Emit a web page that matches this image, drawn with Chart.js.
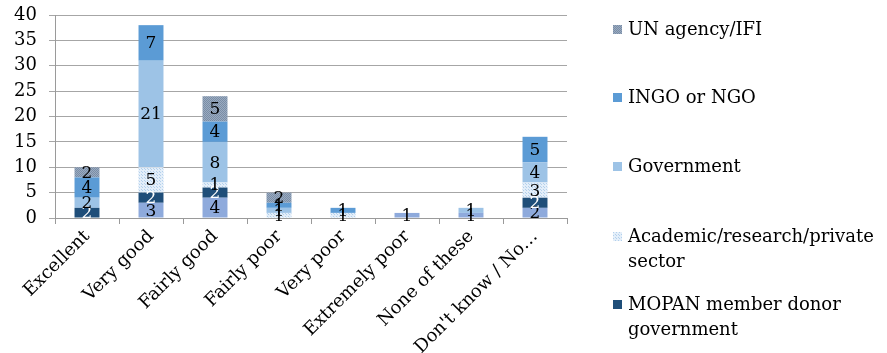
<!DOCTYPE html>
<html>
<head>
<meta charset="utf-8">
<script src="https://cdn.jsdelivr.net/npm/chart.js@4/dist/chart.umd.min.js"></script>
<style>
html,body{margin:0;padding:0;background:#fff;}
#wrap{position:relative;width:887px;height:353px;}
</style>
</head>
<body>
<div id="wrap"><canvas id="c" width="887" height="353"></canvas></div>
<script>
const categories = ["Excellent","Very good","Fairly good","Fairly poor","Very poor","Extremely poor","None of these","Don't know / No\u2026"];
const otherValues    = [0, 3, 4, 0, 0, 1, 1, 2];
const mopanValues    = [2, 2, 2, 0, 0, 0, 0, 2];
const academicValues = [0, 5, 1, 1, 1, 0, 0, 3];
const governmentValues = [2, 21, 8, 1, 0, 0, 1, 4];
const ingoValues     = [4, 7, 4, 1, 1, 0, 0, 5];
const unValues       = [2, 0, 5, 2, 0, 0, 0, 0];
const yTicks = [0,5,10,15,20,25,30,35,40];

const SERIF = "'DejaVu Serif', serif";

function dotPattern(base, dot, step) {
  const p = document.createElement('canvas');
  p.width = step; p.height = step;
  const g = p.getContext('2d');
  g.fillStyle = base; g.fillRect(0,0,step,step);
  g.fillStyle = dot; g.fillRect(0,0,1,1);
  g.fillRect(Math.floor(step/2),Math.floor(step/2),1,1);
  return document.getElementById('c').getContext('2d').createPattern(p,'repeat');
}
const unFill = dotPattern('#9aabc0', '#7a8da6', 2);
const acadFill = dotPattern('#e3eef9', '#b3d0ec', 3);

const datasets = [
  {label:"Other", data: otherValues, backgroundColor:'#8eaadc', legendColor:'#8eaadc', txt:'#000'},
  {label:"MOPAN member donor government", lines:["MOPAN member donor","government"], data: mopanValues, backgroundColor:'#1f4e79', legendColor:'#1f4e79', txt:'#fff'},
  {label:"Academic/research/private sector", lines:["Academic/research/private","sector"], data: academicValues, backgroundColor: acadFill, legendColor: acadFill, txt:'#000'},
  {label:"Government", lines:["Government"], data: governmentValues, backgroundColor:'#9dc3e6', legendColor:'#9dc3e6', txt:'#000'},
  {label:"INGO or NGO", lines:["INGO or NGO"], data: ingoValues, backgroundColor:'#5b9bd5', legendColor:'#5b9bd5', txt:'#000'},
  {label:"UN agency/IFI", lines:["UN agency/IFI"], data: unValues, backgroundColor: unFill, legendColor: unFill, txt:'#000'}
];

const labelPlugin = {
  id:'segLabels',
  afterDatasetsDraw(chart){
    const ctx = chart.ctx;
    ctx.save();
    ctx.font = "17px " + SERIF;
    ctx.textAlign = 'center';
    ctx.textBaseline = 'middle';
    chart.data.datasets.forEach((ds,i)=>{
      const meta = chart.getDatasetMeta(i);
      meta.data.forEach((bar,j)=>{
        const v = ds.data[j];
        if(!v) return;
        const cy = (bar.y + bar.base)/2;
        ctx.fillStyle = ds.txt;
        ctx.fillText(String(v), bar.x, cy+1);
      });
    });
    ctx.restore();
  }
};

const legendPlugin = {
  id:'sideLegend',
  afterDraw(chart){
    const ctx = chart.ctx;
    ctx.save();
    ctx.font = "18px " + SERIF;
    ctx.textBaseline = 'middle';
    ctx.textAlign = 'left';
    const items = [5,4,3,2,1];
    const ys = [30, 98, 167, 237, 305];
    items.forEach((di,k)=>{
      const ds = chart.data.datasets[di];
      const y = ys[k];
      ctx.fillStyle = ds.legendColor;
      ctx.fillRect(613, y-5, 9, 9);
      ctx.fillStyle = '#000';
      ds.lines.forEach((ln,li)=>{
        ctx.fillText(ln, 628, y + li*25);
      });
    });
    ctx.restore();
  }
};

new Chart(document.getElementById('c'), {
  type:'bar',
  data:{ labels: categories, datasets: datasets.map(d=>({label:d.label, data:d.data, backgroundColor:d.backgroundColor, borderWidth:0, txt:d.txt, lines:d.lines, legendColor:d.legendColor, barPercentage:0.39, categoryPercentage:1})) },
  options:{
    responsive:false,
    animation:false,
    layout:{padding:{top:15, right:320, left:0, bottom:0}},
    plugins:{legend:{display:false}, tooltip:{enabled:false}},
    scales:{
      x:{
        stacked:true,
        afterFit(axis){ axis.height = 135; axis.paddingLeft = 0; axis.paddingRight = 0; },
        grid:{display:true, drawOnChartArea:false, drawTicks:true, tickLength:6, color:'#9a9a9a', offset:true},
        border:{display:true, color:'#9a9a9a'},
        ticks:{maxRotation:45, minRotation:45, color:'#000', font:{family:SERIF, size:18}, padding:2, autoSkip:false}
      },
      y:{
        stacked:true, min:0, max:40,
        afterFit(axis){ axis.width = 55; axis.paddingTop = 0; axis.paddingBottom = 0; },
        afterBuildTicks(axis){ axis.ticks = yTicks.map(v=>({value:v})); },
        grid:{color:'#a6a6a6', tickLength:6, drawTicks:true},
        border:{display:true, color:'#9a9a9a'},
        ticks:{color:'#000', font:{family:SERIF, size:18}, padding:12, autoSkip:false}
      }
    }
  },
  plugins:[labelPlugin, legendPlugin]
});
</script>
</body>
</html>
